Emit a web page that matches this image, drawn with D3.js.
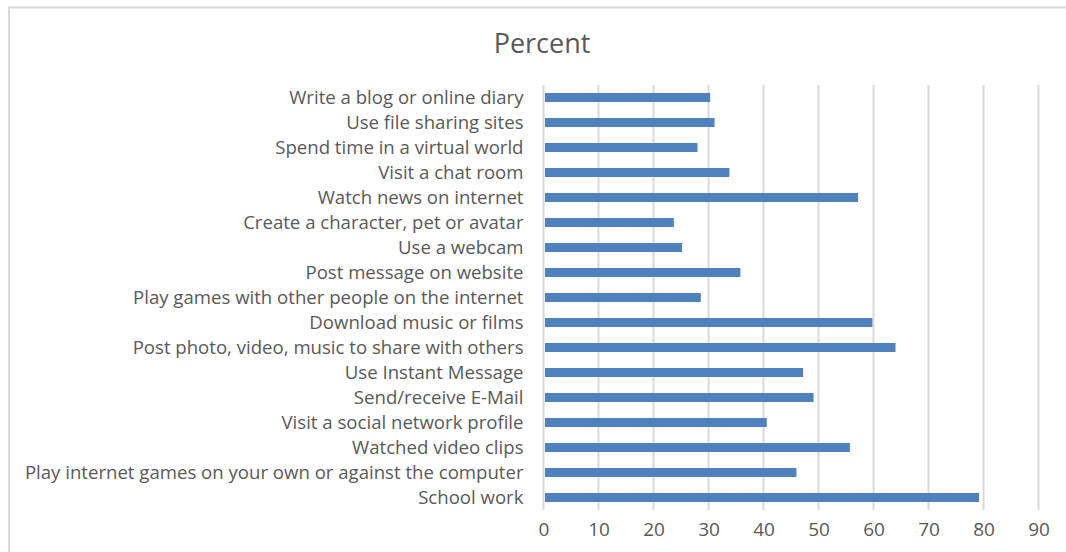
<!DOCTYPE html>
<html>
<head>
<meta charset="utf-8">
<script src="https://cdn.jsdelivr.net/npm/d3@7"></script>
<style>
  html, body { margin: 0; padding: 0; background: #fff; }
  svg { display: block; }
  text { font-family: "Open Sans", "Noto Sans", sans-serif; }
</style>
</head>
<body>
<svg id="chart" width="1066" height="552"></svg>
<script>
// Online activities, share of respondents (%)
const categories = [
  "Write a blog or online diary",
  "Use file sharing sites",
  "Spend time in a virtual world",
  "Visit a chat room",
  "Watch news on internet",
  "Create a character, pet or avatar",
  "Use a webcam",
  "Post message on website",
  "Play games with other people on the internet",
  "Download music or films",
  "Post photo, video, music to share with others",
  "Use Instant Message",
  "Send/receive E-Mail",
  "Visit a social network profile",
  "Watched video clips",
  "Play internet games on your own or against the computer",
  "School work"
];
const percents = [30.3, 31.1, 28.0, 33.8, 57.2, 23.7, 25.2, 35.8, 28.6, 59.8, 64.0, 47.2, 49.1, 40.6, 55.7, 46.0, 79.2];
const tickValues = [0, 10, 20, 30, 40, 50, 60, 70, 80, 90];
const chartTitle = "Percent";

const svg = d3.select("#chart");
const W = 1066, H = 552;
const plot = { left: 543.5, right: 1038.5, top: 85, bottom: 510 };

// chart frame
svg.append("path")
  .attr("d", `M${W},7.5 H9 V${H}`)
  .attr("fill", "none")
  .attr("stroke", "#d9d9d9")
  .attr("stroke-width", 2);

const x = d3.scaleLinear().domain([0, 90]).range([plot.left, plot.right]);
const y = d3.scaleBand().domain(categories).range([plot.top, plot.bottom]).paddingInner(0.64).paddingOuter(0.32);

// vertical gridlines
svg.append("g")
  .selectAll("line")
  .data(tickValues)
  .join("line")
  .attr("x1", d => x(d)).attr("x2", d => x(d))
  .attr("y1", plot.top).attr("y2", plot.bottom)
  .attr("stroke", "#d9d9d9")
  .attr("stroke-width", 2);

// bars
const rows = categories.map((c, i) => ({ c, v: percents[i] }));
svg.append("g")
  .selectAll("rect")
  .data(rows)
  .join("rect")
  .attr("x", x(0) + 1.5)
  .attr("y", d => y(d.c))
  .attr("width", d => x(d.v) - x(0) - 1.5)
  .attr("height", y.bandwidth())
  .attr("fill", "#4f81bd");

// category labels
const yAxis = d3.axisLeft(y).tickSize(0).tickPadding(20);
const gy = svg.append("g").attr("transform", `translate(${plot.left},1)`).call(yAxis);
gy.select(".domain").remove();
gy.selectAll("text")
  .attr("fill", "#595959")
  .style("font-size", "18.6px")
  .style("font-family", "'Open Sans', sans-serif");

// value axis labels
const xAxis = d3.axisBottom(x).tickValues(tickValues).tickSize(0).tickPadding(13);
const gx = svg.append("g").attr("transform", `translate(0,${plot.bottom})`).call(xAxis);
gx.select(".domain").remove();
gx.selectAll("text")
  .attr("fill", "#595959")
  .style("font-size", "19px")
  .style("font-family", "'Open Sans', sans-serif");

// title
svg.append("text")
  .attr("x", 542)
  .attr("y", 53)
  .attr("text-anchor", "middle")
  .attr("fill", "#595959")
  .style("font-size", "27px")
  .text(chartTitle);
</script>
</body>
</html>
